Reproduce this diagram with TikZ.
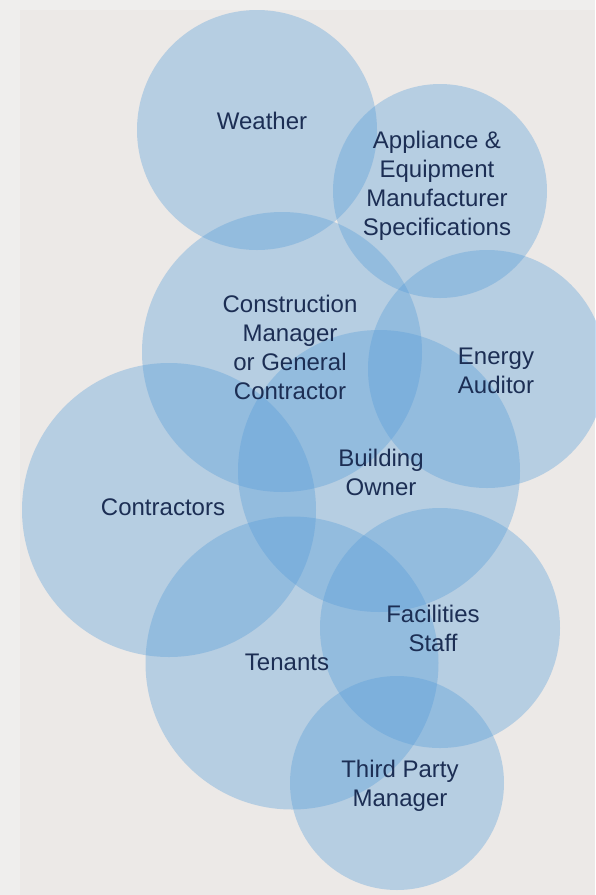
\documentclass[tikz,border=0pt]{standalone}
\usepackage{fontspec}
\setmainfont{Liberation Sans}
\definecolor{fond}{RGB}{239,238,237}
\definecolor{panneau}{RGB}{236,233,231}
\definecolor{bleu}{RGB}{84,156,217}
\definecolor{encre}{RGB}{28,46,84}
\begin{document}
\begin{tikzpicture}[x=1pt, y=-1pt]
			\tikzset{bulle/.style={circle, fill=bleu, fill opacity=0.35, draw=none, inner sep=0pt}, texte/.style={text=encre, align=center, font=\fontsize{24}{29}\selectfont}};

			\fill[fond] (0,0) rectangle (595,895);
			\fill[panneau] (20,10) rectangle (595,895);
			\useasboundingbox (0,0) rectangle (595,895);

			\node[bulle, minimum size=240pt] (meteo)   at (257, 130) {};
			\node[bulle, minimum size=214pt] (appar)   at (440, 191) {};
			\node[bulle, minimum size=280pt] (constr)  at (282, 352) {};
			\node[bulle, minimum size=238pt] (audit)   at (487, 369) {};
			\node[bulle, minimum size=282pt] (proprio) at (379, 471) {};
			\node[bulle, minimum size=294pt] (entrep)  at (169, 510) {};
			\node[bulle, minimum size=293pt] (locat)   at (292, 663) {};
			\node[bulle, minimum size=240pt] (perso)   at (440, 628) {};
			\node[bulle, minimum size=214pt] (tiers)   at (397, 783) {};

			\node[texte] (t-meteo)   at (262, 121) {Weather};
			\node[texte] (t-appar)   at (437, 186) {Appliance \&\\Equipment\\Manufacturer\\Specifications};
			\node[texte] (t-constr)  at (290, 347) {Construction\\Manager\\or General\\Contractor};
			\node[texte] (t-audit)   at (496, 371) {Energy\\Auditor};
			\node[texte] (t-proprio) at (381, 472) {Building\\Owner};
			\node[texte] (t-entrep)  at (163, 507) {Contractors};
			\node[texte] (t-locat)   at (287, 662) {Tenants};
			\node[texte] (t-perso)   at (433, 628) {Facilities\\Staff};
			\node[texte] (t-tiers)   at (400, 786) {Third Party\\Manager};

		\end{tikzpicture}
\end{document}
